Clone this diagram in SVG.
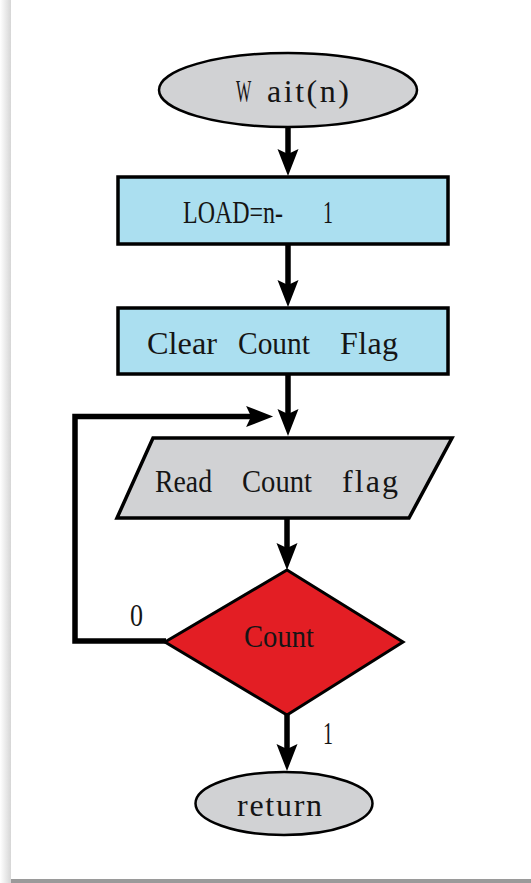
<svg xmlns="http://www.w3.org/2000/svg" width="531" height="883" viewBox="0 0 531 883">
  <defs>
    <linearGradient id="edgeShade" x1="0" y1="0" x2="1" y2="0">
      <stop offset="0" stop-color="#ffffff"/>
      <stop offset="1" stop-color="#d6d6d6"/>
    </linearGradient>
    <marker id="head" markerUnits="userSpaceOnUse" markerWidth="28" markerHeight="22" refX="8" refY="11" orient="auto" overflow="visible">
      <path d="M0,0.5 L27,11 L0,21.5 L5,11 Z" fill="#000"/>
    </marker>
  </defs>
  <style>
    .conn { fill: none; stroke: #000; stroke-width: 5.5; marker-end: url(#head); }
    .loop { fill: none; stroke: #000; stroke-width: 5.5; stroke-linejoin: miter; }
    .term { fill: #d1d2d4; stroke: #000; stroke-width: 2.5; }
    .proc { fill: #abdff0; stroke: #000; stroke-width: 3.5; }
    .io { fill: #d1d2d4; stroke: #000; stroke-width: 3.5; }
    .dec { fill: #e31e24; stroke: #000; stroke-width: 3; }
    .lbl { font-family: "Liberation Serif", "Times New Roman", serif; font-size: 32px; fill: #151515; }
  </style>

  <!-- page with soft edge shadow -->
  <rect x="0" y="0" width="531" height="883" fill="#ffffff"/>
  <rect x="0" y="0" width="11" height="883" fill="url(#edgeShade)"/>
  <rect x="11" y="879" width="520" height="4" fill="#9a9a9a"/>

  <g id="connectors">
    <line class="conn" x1="288" y1="127" x2="288" y2="157"/>
    <line class="conn" x1="288" y1="245" x2="288" y2="288"/>
    <line class="conn" x1="288" y1="375" x2="288" y2="417"/>
    <path class="loop" d="M166,641 H75 V416.5 H254"/>
    <line x1="254" y1="416.5" x2="254.1" y2="416.5" stroke="#000" stroke-width="5.5" marker-end="url(#head)"/>
    <line class="conn" x1="287" y1="519" x2="287" y2="551"/>
    <line class="conn" x1="287" y1="715" x2="287" y2="752"/>
    <text class="lbl" x="130" y="626" textLength="13" lengthAdjust="spacingAndGlyphs">0</text>
    <text class="lbl" x="323" y="744" textLength="10" lengthAdjust="spacingAndGlyphs">1</text>
  </g>

  <g id="wait">
    <ellipse class="term" cx="288" cy="90" rx="129" ry="37"/>
    <text class="lbl" y="102"><tspan x="236" textLength="15" lengthAdjust="spacingAndGlyphs">W</tspan> <tspan x="267" textLength="82" lengthAdjust="spacing">ait(n)</tspan></text>
  </g>

  <g id="load">
    <rect class="proc" x="118" y="177" width="330" height="67"/>
    <text class="lbl" y="223"><tspan x="183" textLength="100" lengthAdjust="spacingAndGlyphs">LOAD=n-</tspan> <tspan x="323" textLength="10" lengthAdjust="spacingAndGlyphs">1</tspan></text>
  </g>

  <g id="clear">
    <rect class="proc" x="118" y="308" width="330" height="66"/>
    <text class="lbl" y="354"><tspan x="147" textLength="70" lengthAdjust="spacingAndGlyphs">Clear</tspan> <tspan x="238" textLength="72" lengthAdjust="spacingAndGlyphs">Count</tspan> <tspan x="340" textLength="58" lengthAdjust="spacing">Flag</tspan></text>
  </g>

  <g id="read">
    <polygon class="io" points="153,438 452,438 409,518 117,518"/>
    <text class="lbl" y="492"><tspan x="155" textLength="57" lengthAdjust="spacingAndGlyphs">Read</tspan> <tspan x="242" textLength="70" lengthAdjust="spacingAndGlyphs">Count</tspan> <tspan x="342" textLength="56" lengthAdjust="spacing">flag</tspan></text>
  </g>

  <g id="count">
    <polygon class="dec" points="287,570 403,642 287,715 165,642"/>
    <text class="lbl" x="244" y="647" textLength="70" lengthAdjust="spacingAndGlyphs">Count</text>
  </g>

  <g id="return">
    <ellipse class="term" cx="284" cy="803.5" rx="88.5" ry="31.5"/>
    <text class="lbl" x="237" y="816" textLength="85" lengthAdjust="spacing">return</text>
  </g>
</svg>
